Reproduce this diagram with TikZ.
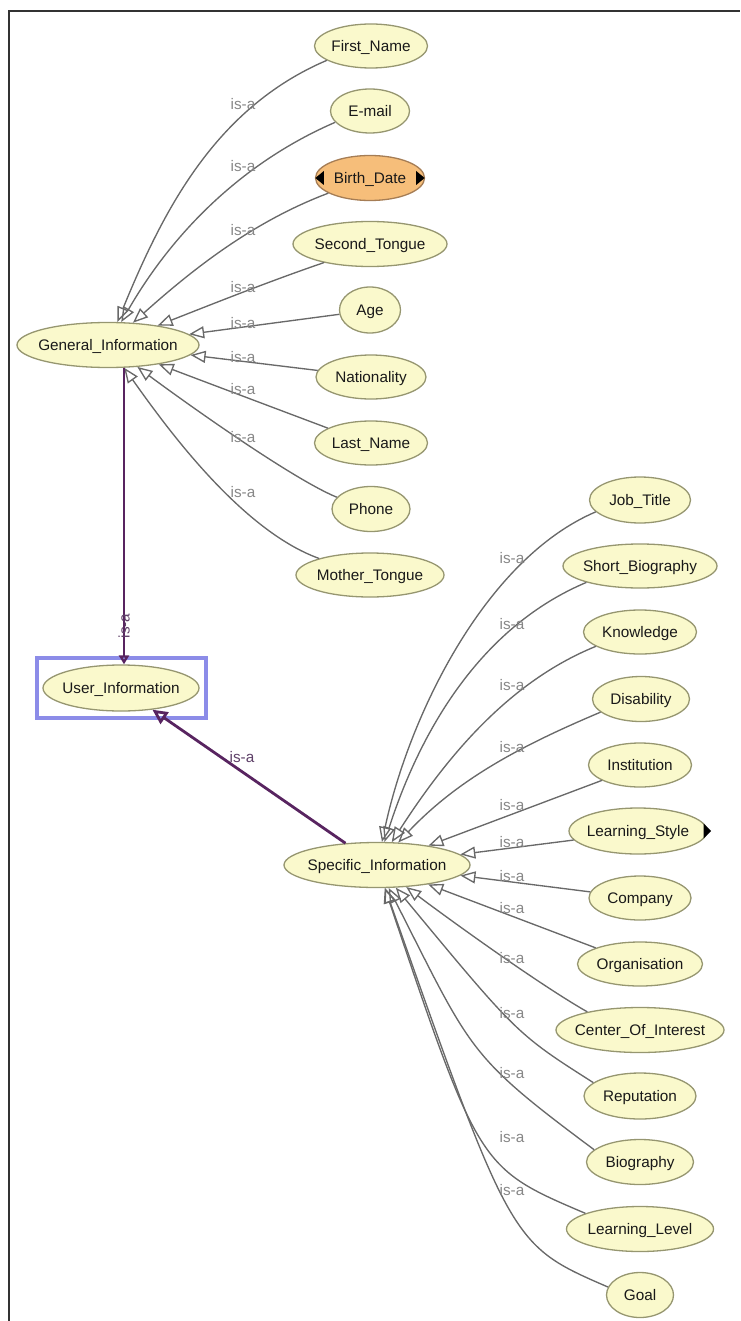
\documentclass[tikz,border=0pt]{standalone}
\usepackage{fontspec}
\setmainfont{Liberation Sans}
\usetikzlibrary{shapes.geometric, arrows.meta, calc}

\definecolor{nodefill}{RGB}{250,249,204}
\definecolor{nodeline}{RGB}{150,150,112}
\definecolor{bdfill}{RGB}{246,190,122}
\definecolor{bdline}{RGB}{165,125,85}
\definecolor{edgecol}{RGB}{105,105,105}
\definecolor{lblcol}{RGB}{135,135,135}
\definecolor{purpcol}{RGB}{88,36,96}
\definecolor{purplbl}{RGB}{95,65,105}
\definecolor{selcol}{RGB}{140,140,232}
\definecolor{framecol}{RGB}{50,50,50}
\definecolor{txtcol}{RGB}{25,25,25}

\newcommand{\ztext}[1]{\makebox[0pt]{#1}}

\begin{document}
\begin{tikzpicture}[x=1pt, y=-1pt,
  cls/.style={ellipse, draw=nodeline, fill=nodefill, line width=1.3pt, inner sep=0pt,
    text=txtcol, font=\fontsize{15.3}{18}\selectfont, text height=11pt, text depth=0pt},
  sz/.style 2 args={minimum width=#1pt, minimum height=#2pt},
  hot/.style={fill=bdfill, draw=bdline},
  lbl/.style={text=lblcol, font=\fontsize{15.3}{18}\selectfont, inner sep=0pt, text height=11pt, text depth=0pt},
  plbl/.style={lbl, text=purplbl},
  isa/.style={draw=edgecol, line width=1.35pt, -{Triangle[open, length=15pt, width=12pt]}},
  purpline/.style={draw=purpcol, line width=2.8pt},
  selbox/.style={draw=selcol, line width=4.5pt},
  marker/.style={fill=black}
]
\useasboundingbox (0,0) rectangle (740,1321);

% frame
\draw[framecol, line width=2pt] (9,1321) -- (9,11.5) -- (740,11.5);

% general information group
\node[cls, sz={182}{45}] (gi) at (108,345) {\ztext{General\_Information}};
\node[cls, sz={113}{44}] (fn) at (371,46) {\ztext{First\_Name}};
\node[cls, sz={79}{44}] (em) at (370,111) {\ztext{E-mail}};
\node[cls, hot, sz={109}{45}] (bd) at (370,178) {\ztext{Birth\_Date}};
\node[cls, sz={154}{45}] (st) at (370,244) {\ztext{Second\_Tongue}};
\node[cls, sz={61}{46}] (ag) at (370,310) {\ztext{Age}};
\node[cls, sz={110}{44}] (na) at (371,377) {\ztext{Nationality}};
\node[cls, sz={113}{44}] (ln) at (371,443) {\ztext{Last\_Name}};
\node[cls, sz={78}{45}] (ph) at (371,509) {\ztext{Phone}};
\node[cls, sz={148}{44}] (mt) at (370,575) {\ztext{Mother\_Tongue}};

% user information
\node[cls, sz={156}{46}] (ui) at (121,688) {\ztext{User\_Information}};
\coordinate (selA) at (ui.west |- ui.north);
\coordinate (selB) at (ui.east |- ui.south);
\draw[selbox] ($(selA)+(-5.5,-6.5)$) rectangle ($(selB)+(6.5,6.5)$);

% specific information group
\node[cls, sz={186}{45}] (si) at (377,865) {\ztext{Specific\_Information}};
\node[cls, sz={101}{46}] (jt) at (640,500) {\ztext{Job\_Title}};
\node[cls, sz={154}{44}] (sb) at (640,566) {\ztext{Short\_Biography}};
\node[cls, sz={113}{44}] (kn) at (640,632) {\ztext{Knowledge}};
\node[cls, sz={97}{45}] (di) at (641,699) {\ztext{Disability}};
\node[cls, sz={103}{44}] (ins) at (640,765) {\ztext{Institution}};
\node[cls, sz={138}{46}] (ls) at (638,831) {\ztext{Learning\_Style}};
\node[cls, sz={102}{44}] (co) at (640,898) {\ztext{Company}};
\node[cls, sz={125}{44}] (og) at (640,964) {\ztext{Organisation}};
\node[cls, sz={168}{45}] (ci) at (640,1030) {\ztext{Center\_Of\_Interest}};
\node[cls, sz={112}{46}] (re) at (640,1096) {\ztext{Reputation}};
\node[cls, sz={107}{45}] (bi) at (640,1162) {\ztext{Biography}};
\node[cls, sz={147}{45}] (ll) at (640,1229) {\ztext{Learning\_Level}};
\node[cls, sz={67}{45}] (go) at (640,1295) {\ztext{Goal}};

% markers
\fill[marker] ($(bd.west)+(0.5,0)$) -- ++(8.5,-7) -- ++(0,14) -- cycle;
\fill[marker] ($(bd.east)+(-0.5,0)$) -- ++(-8.5,-7) -- ++(0,14) -- cycle;
\fill[marker] ($(ls.east)+(3.5,0)$) -- ++(-7.5,-7.5) -- ++(0,15) -- cycle;

% general edges
\draw[isa] (fn.198) .. controls (215,108) and (163,211) .. (gi);
\draw[isa] (em.198) .. controls (241,163) and (172,234) .. (gi);
\draw[isa] (bd.200) .. controls (252,222) and (192,270) .. (gi);
\draw[isa] (st.202) .. controls (270,281) and (210,305) .. (gi);
\draw[isa] (ag.188) -- (gi);
\draw[isa] (na.173) -- (gi);
\draw[isa] (ln.161) .. controls (285,412) and (200,380) .. (gi);
\draw[isa] (ph.161) .. controls (290,478) and (175,395) .. (gi);
\draw[isa] (mt.162) .. controls (240,530) and (164,424) .. (gi);

% specific edges
\draw[isa] (jt.195) .. controls (485,559) and (409,716) .. (si);
\draw[isa] (sb.197) .. controls (485,625) and (423,723) .. (si);
\draw[isa] (kn.198) .. controls (508,682) and (446,758) .. (si);
\draw[isa] (di.198) .. controls (523,745) and (459,778) .. (si);
\draw[isa] (ins.202) -- (si);
\draw[isa] (ls.188) -- (si);
\draw[isa] (co.173) -- (si);
\draw[isa] (og.160) -- (si);
\draw[isa] (ci.161) .. controls (540,985) and (450,920) .. (si);
\draw[isa] (re.164) .. controls (517,1034) .. (si);
\draw[isa] (bi.165) .. controls (467,1055) and (472,1052) .. (si);
\draw[isa] (ll.164) .. controls (479,1168) .. (si);
\draw[isa] (go.166) .. controls (511,1245) .. (si);

% labels
\foreach \yy [count=\i] in {104,166,230,287,323,357,389,437,492}
  \node[lbl] (gl\i) at (243,\yy) {is-a};
\foreach \yy [count=\i] in {558,624,685,747,805,842,876,908,958,1013,1073,1137,1190}
  \node[lbl] (sl\i) at (512,\yy) {is-a};

% purple edges
\draw[purpline, -{Triangle[open, length=9pt, width=10pt]}] ($(gi.south)+(16,0)$) -- ($(ui.north)+(3,0)$);
\draw[purpline, -{Triangle[open, length=15pt, width=14pt]}] (si) -- (ui);
\node[plbl, rotate=90] (vl) at (124,626) {is-a};
\node[plbl] (dl) at (242,757) {is-a};
\end{tikzpicture}
\end{document}
